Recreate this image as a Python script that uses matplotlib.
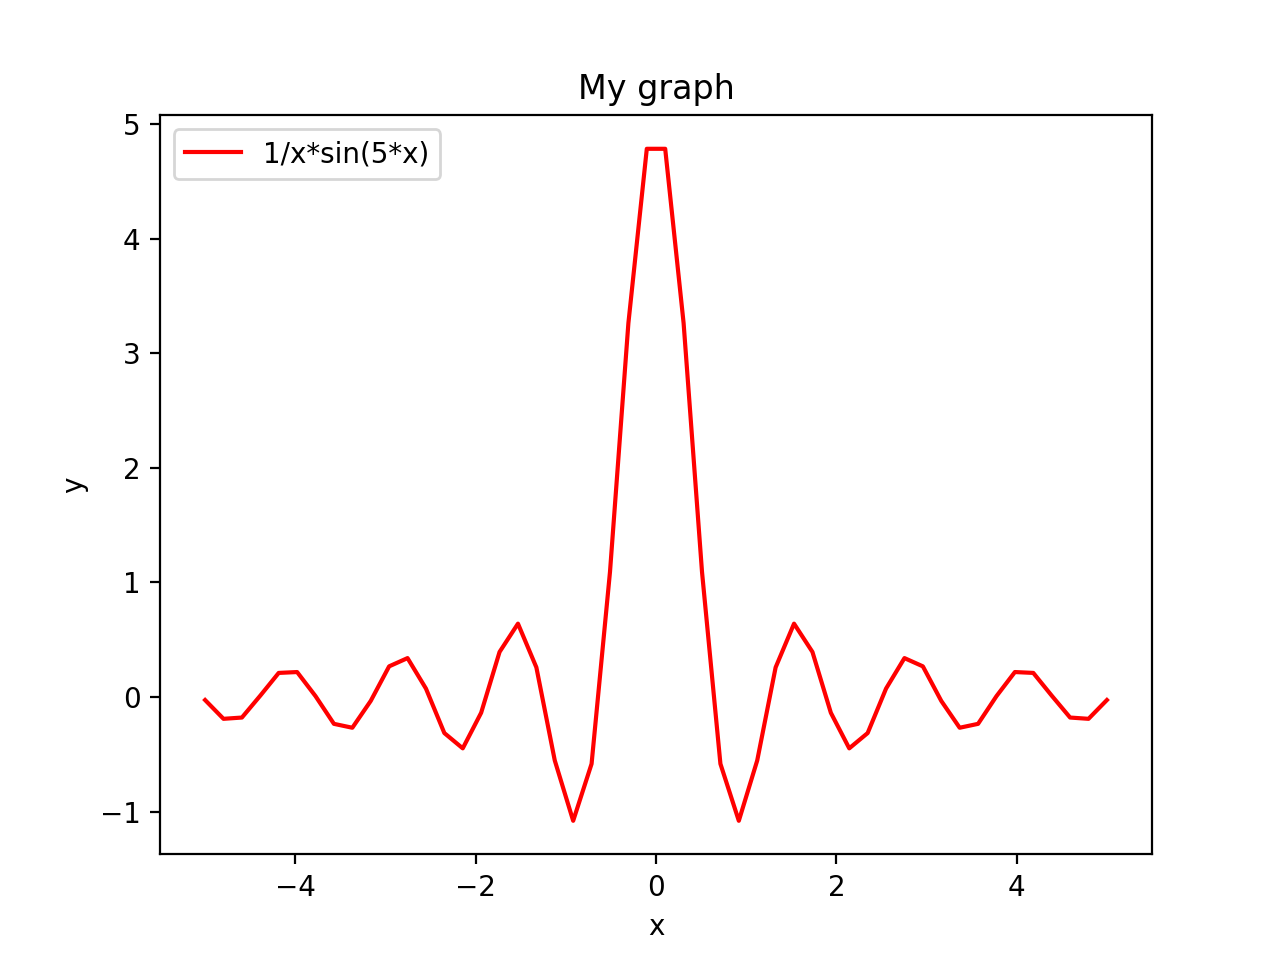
import numpy as np
import matplotlib.pyplot as plt

# x sample points and values (left half, mirrored)
x_left = [-5.0, -4.7959, -4.5918, -4.3878, -4.1837, -3.9796, -3.7755, -3.5714,
          -3.3673, -3.1633, -2.9592, -2.7551, -2.551, -2.3469, -2.1429, -1.9388,
          -1.7347, -1.5306, -1.3265, -1.1224, -0.9184, -0.7143, -0.5102, -0.3061,
          -0.1020]
y_left = [-0.0265, -0.1906, -0.1794, 0.0119, 0.2102, 0.2178, 0.0075, -0.2344,
          -0.2685, -0.0342, 0.2676, 0.3395, 0.0735, -0.3149, -0.4484, -0.1376,
          0.3933, 0.6402, 0.2585, -0.5543, -1.0809, -0.5833, 1.0921, 3.264,
          4.786]

x = x_left + [-v for v in reversed(x_left)]
y = y_left + list(reversed(y_left))

fig, ax = plt.subplots(figsize=(6.4, 4.8), dpi=200)
ax.plot(x, y, color='red', label='1/x*sin(5*x)')
ax.set_title('My graph')
ax.set_xlabel('x')
ax.set_ylabel('y')
ax.legend(loc='upper left')
plt.savefig('out.png')
